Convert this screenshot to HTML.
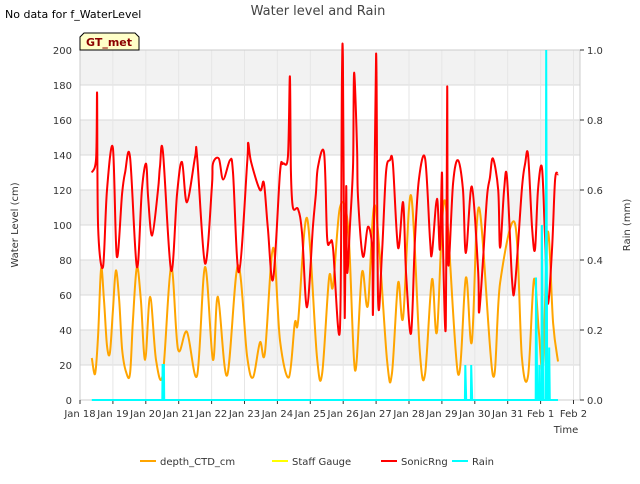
<!DOCTYPE html>
<html><head><meta charset="utf-8"><style>
body{margin:0;background:#fff;font-family:"DejaVu Sans","Liberation Sans",sans-serif;}
svg text{font-family:"DejaVu Sans","Liberation Sans",sans-serif;}
</style></head><body>
<svg id="chart" width="640" height="480" viewBox="0 0 640 480">
<text x="5" y="18" font-size="11" fill="#000">No data for f_WaterLevel</text>
<text x="318" y="15" font-size="13" fill="#444" text-anchor="middle">Water level and Rain</text>
<g id="bands"></g>
<g id="grid"></g>
<g id="yticks"></g>
<g id="rticks"></g>
<g id="xticks"></g>
<g id="series"></g>
<text transform="translate(18,225) rotate(-90)" font-size="10" text-anchor="middle" fill="#333">Water Level (cm)</text>
<text transform="translate(630,225) rotate(-90)" font-size="10" text-anchor="middle" fill="#333">Rain (mm)</text>
<text x="566" y="433" font-size="10" text-anchor="middle" fill="#333">Time</text>
<g>
<path d="M80,50 L80,37 L84,33 L135,33 L139,37 L139,50 Z" fill="#ffffc8" stroke="#000" stroke-width="1"/>
<text x="109" y="46" font-size="11" font-weight="bold" fill="#8b0000" text-anchor="middle">GT_met</text>
</g>
<g>
<g><line x1="140" y1="461" x2="156" y2="461" stroke="#ffa500" stroke-width="2"/><text x="160" y="465" font-size="10" fill="#333">depth_CTD_cm</text></g>
<g><line x1="272" y1="461" x2="288" y2="461" stroke="#ffff00" stroke-width="2"/><text x="292" y="465" font-size="10" fill="#333">Staff Gauge</text></g>
<g><line x1="381" y1="461" x2="397" y2="461" stroke="#ff0000" stroke-width="2"/><text x="401" y="465" font-size="10" fill="#333">SonicRng</text></g>
<g><line x1="452" y1="461" x2="468" y2="461" stroke="#00ffff" stroke-width="2"/><text x="472" y="465" font-size="10" fill="#333">Rain</text></g>
</g>
</svg>
<script>
const xTickLabels=["Jan 18","Jan 19","Jan 20","Jan 21","Jan 22","Jan 23","Jan 24","Jan 25","Jan 26","Jan 27","Jan 28","Jan 29","Jan 30","Jan 31","Feb 1","Feb 2"];
const yTicks=[0,20,40,60,80,100,120,140,160,180,200];
const rainTicks=[0,0.2,0.4,0.6,0.8,1.0];
const depthDays=[0.36,0.46,0.55,0.64,0.73,0.82,0.91,1.00,1.09,1.19,1.28,1.40,1.52,1.61,1.73,1.85,1.98,2.13,2.31,2.52,2.77,2.98,3.25,3.56,3.80,4.04,4.19,4.47,4.80,5.08,5.26,5.47,5.62,5.87,6.08,6.35,6.53,6.63,6.90,7.20,7.36,7.57,7.69,7.90,8.15,8.36,8.57,8.75,8.97,9.33,9.48,9.67,9.82,10.06,10.33,10.49,10.70,10.85,11.09,11.49,11.73,11.91,12.13,12.55,12.77,13.22,13.43,13.62,13.80,13.95,14.07,14.22,14.38,14.53];
const depthVals=[24,15,37,75,57,31,27,51,74,57,29,16,15,46,76,57,23,59,23,15,76,29,39,14,76,23,59,14,77,25,13,33,27,87,34,13,44,45,104,25,15,70,65,110,99,17,73,54,111,23,15,67,47,117,27,15,69,39,114,15,70,33,110,14,67,101,25,14,69,38,20,96,44,22];
const sonicDays=[0.36,0.49,0.52,0.55,0.70,0.82,1.00,1.12,1.28,1.37,1.52,1.73,1.88,2.01,2.07,2.19,2.37,2.43,2.52,2.77,2.95,3.10,3.25,3.50,3.56,3.80,4.01,4.04,4.22,4.35,4.56,4.65,4.83,5.08,5.11,5.20,5.47,5.59,5.71,5.87,6.08,6.17,6.32,6.38,6.41,6.47,6.63,6.75,6.90,7.08,7.17,7.23,7.42,7.51,7.60,7.69,7.90,7.96,7.99,8.02,8.05,8.09,8.12,8.21,8.30,8.33,8.42,8.45,8.60,8.75,8.88,8.91,9.00,9.06,9.18,9.30,9.42,9.51,9.67,9.82,9.91,10.06,10.18,10.30,10.49,10.64,10.70,10.85,10.94,11.00,11.03,11.12,11.16,11.19,11.34,11.49,11.64,11.73,11.91,12.10,12.13,12.25,12.37,12.46,12.55,12.71,12.77,12.89,12.98,13.13,13.22,13.43,13.53,13.62,13.74,13.83,13.92,14.04,14.13,14.22,14.35,14.44,14.53];
const sonicVals=[130,138,175,99,76,120,144,82,118,130,139,76,120,135,116,94,120,133,142,74,118,136,113,139,139,78,122,135,138,126,137,130,73,135,147,136,120,124,98,69,130,135,139,185,131,110,109,95,53,99,118,133,141,93,90,87,40,181,196,105,47,122,73,101,135,187,145,116,82,99,87,53,198,57,84,130,137,135,87,113,73,38,91,126,138,91,84,115,86,130,91,42,179,78,124,137,120,84,122,74,50,80,116,127,138,120,87,120,127,69,65,120,135,140,99,86,120,133,95,55,87,126,129];
const rainDays=[0.36,2.50,2.51,2.55,2.56,11.70,11.71,11.74,11.88,11.89,11.92,13.85,13.86,13.90,13.95,13.96,13.98,14.03,14.04,14.08,14.15,14.17,14.20,14.25,14.26,14.28,14.53];
const rainVals=[0,0,0.1,0.1,0,0,0.1,0,0,0.1,0,0,0.35,0,0,0.1,0,0,0.5,0,0,1.0,0,0,0.15,0,0];

const NS="http://www.w3.org/2000/svg";
const L=80,R=580,T=50,B=400,DAYPX=32.9;
const xS=d=>L+d*DAYPX;
const yS=v=>B-(v/200)*(B-T);
const rS=v=>B-v*(B-T);
function mk(tag,attrs,parent){const e=document.createElementNS(NS,tag);for(const k in attrs)e.setAttribute(k,attrs[k]);parent.appendChild(e);return e;}
const bands=document.getElementById('bands');
mk('rect',{x:L,y:T,width:R-L,height:B-T,fill:'#fff'},bands);
for(let v=20;v<200;v+=40){const r=mk('rect',{x:L,y:yS(v+20),width:R-L,height:yS(v)-yS(v+20),fill:'#f2f2f2'},bands);

}
const grid=document.getElementById('grid');
yTicks.forEach(v=>{const l=mk('line',{x1:L,x2:R,y1:yS(v),y2:yS(v),stroke:'#d9d9d9','stroke-width':1},grid);

});
xTickLabels.forEach((t,i)=>{const l=mk('line',{x1:xS(i),x2:xS(i),y1:T,y2:B,stroke:'#e6e6e6','stroke-width':1},grid);

});
mk('rect',{x:L,y:T,width:R-L,height:B-T,fill:'none',stroke:'#cccccc'},grid);
const yt=document.getElementById('yticks');
yTicks.forEach(v=>{const t=mk('text',{x:72,y:yS(v)+4,'font-size':10,'text-anchor':'end',fill:'#333'},yt);t.textContent=v;

});
const rt=document.getElementById('rticks');
rainTicks.forEach(v=>{mk('line',{x1:R,x2:R+4,y1:rS(v),y2:rS(v),stroke:'#333'},rt);
const t=mk('text',{x:587,y:rS(v)+4,'font-size':10,fill:'#333'},rt);t.textContent=v.toFixed(1);

});
const xt=document.getElementById('xticks');
xTickLabels.forEach((s,i)=>{mk('line',{x1:xS(i),x2:xS(i),y1:B,y2:B+4,stroke:'#333'},xt);
const t=mk('text',{x:xS(i),y:B+17,'font-size':10,'text-anchor':'middle',fill:'#333'},xt);t.textContent=s;

});
const sg=document.getElementById('series');
function smoothPath(P){let d='M'+P[0][0].toFixed(1)+','+P[0][1].toFixed(1);
for(let i=0;i<P.length-1;i++){const p0=P[i-1]||P[i],p1=P[i],p2=P[i+1],p3=P[i+2]||p2;
const c1x=p1[0]+(p2[0]-p0[0])/6,c1y=p1[1]+(p2[1]-p0[1])/6,c2x=p2[0]-(p3[0]-p1[0])/6,c2y=p2[1]-(p3[1]-p1[1])/6;
d+=' C'+c1x.toFixed(1)+','+c1y.toFixed(1)+' '+c2x.toFixed(1)+','+c2y.toFixed(1)+' '+p2[0].toFixed(1)+','+p2[1].toFixed(1);}
return d;}
function line(days,vals,ys,color,w,name,smooth){const P=days.map((d,i)=>[xS(d),ys(vals[i])]);
const p=smooth?mk('path',{d:smoothPath(P),fill:'none',stroke:color,'stroke-width':w,'stroke-linejoin':'round'},sg)
:mk('polyline',{points:P.map(q=>q[0].toFixed(1)+','+q[1].toFixed(1)).join(' '),fill:'none',stroke:color,'stroke-width':w},sg);

}
line(depthDays,depthVals,yS,'#ffa500',2,'depth-ctd-line',true);
line(sonicDays,sonicVals,yS,'#ff0000',2,'sonicrng-line',true);
line(rainDays,rainVals,rS,'#00ffff',2,'rain-line',false);
</script>
</body></html>
